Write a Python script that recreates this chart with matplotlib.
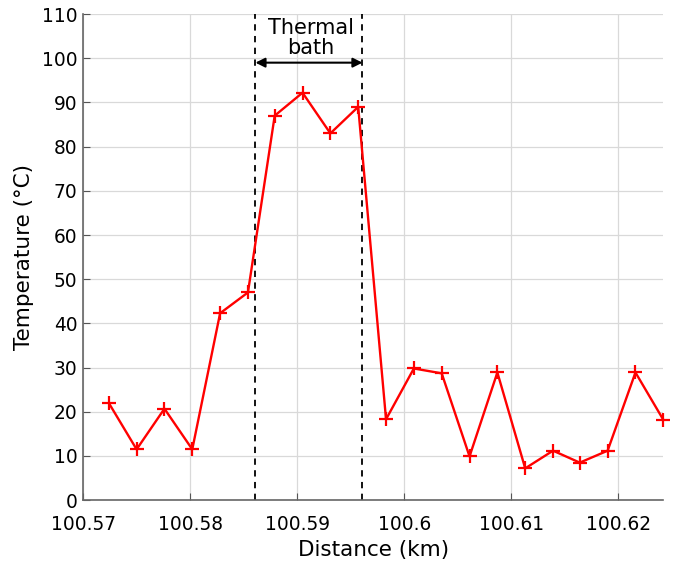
import matplotlib
matplotlib.use("Agg")
import matplotlib.pyplot as plt

# distance along the cable (km) and temperature (degC)
distance = [100.5724, 100.5750, 100.5776, 100.5802, 100.5828, 100.5854, 100.5879,
            100.5905, 100.5931, 100.5957, 100.5983, 100.6009, 100.6035, 100.6061,
            100.6087, 100.6113, 100.6139, 100.6164, 100.6190, 100.6216, 100.6242]
temperature = [22.0, 11.5, 20.7, 11.5, 42.3, 47.0, 87.0, 92.2, 83.0, 89.0, 18.3,
               29.8, 28.7, 9.9, 28.9, 7.2, 11.2, 8.5, 11.2, 28.9, 18.2]

bath_edges = [100.5861, 100.5961]
xticks = [100.57, 100.58, 100.59, 100.6, 100.61, 100.62]
xticklabels = ["100.57", "100.58", "100.59", "100.6", "100.61", "100.62"]
yticks = list(range(0, 111, 10))

fig = plt.figure(figsize=(6.81, 5.62), dpi=100)
ax = fig.add_axes([0.122, 0.110, 0.852, 0.865])

ax.plot(distance, temperature, color="red", lw=1.7, marker="+", ms=10, mew=1.6,
        clip_on=False, zorder=3)

for xb in bath_edges:
    ax.axvline(xb, color="black", ls=(0, (3.5, 3)), lw=1.3, zorder=2)

ax.annotate("", xy=(bath_edges[0], 99), xytext=(bath_edges[1], 99),
            arrowprops=dict(arrowstyle="<|-|>", color="black", lw=1.5,
                            mutation_scale=14, shrinkA=0, shrinkB=0))
ax.text(sum(bath_edges) / 2 + 0.0002, 104.6, "Thermal\nbath", ha="center", va="center",
        fontsize=15, linespacing=0.95)

ax.set_xlim(100.57, 100.6242)
ax.set_ylim(0, 110)
ax.set_xticks(xticks)
ax.set_xticklabels(xticklabels)
ax.set_yticks(yticks)
ax.tick_params(direction="in", labelsize=13.4, length=5, color="#555555", pad=4)
ax.tick_params(axis="x", pad=11)
ax.grid(True, color="#d9d9d9", lw=0.9)
ax.set_axisbelow(True)

ax.spines["right"].set_visible(False)
ax.spines["top"].set_visible(False)
for s in ["left", "bottom"]:
    ax.spines[s].set_color("#666666")
    ax.spines[s].set_linewidth(1.2)

ax.set_xlabel("Distance (km)", fontsize=15.5, labelpad=4)
ax.set_ylabel("Temperature (°C)", fontsize=15.5, labelpad=6)

fig.savefig("out.png", dpi=100)
